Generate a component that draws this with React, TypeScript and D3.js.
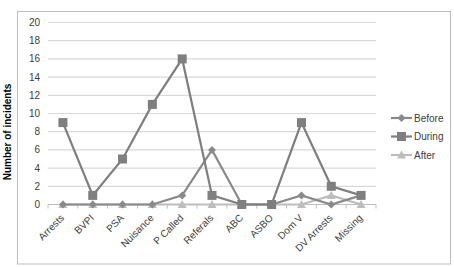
import React from "react";
import * as d3 from "d3";

const categories = ["Arrests", "BVPI", "PSA", "Nuisance", "P Called", "Referals", "ABC", "ASBO", "Dom V", "DV Arrests", "Missing"];
const before = [0, 0, 0, 0, 1, 6, 0, 0, 1, 0, 1];
const during = [9, 1, 5, 11, 16, 1, 0, 0, 9, 2, 1];
const after = [0, 0, 0, 0, 0, 0, 0, 0, 0, 1, 0];
const yTicks = [0, 2, 4, 6, 8, 10, 12, 14, 16, 18, 20];
const seriesNames = ["Before", "During", "After"];

const W = 454, H = 267;
const plot = { left: 48, right: 376, top: 22.5, bottom: 204.5 };

const colors = ["#8a8a8a", "#7f7f7f", "#bdbdbd"];
const font = "'Liberation Sans', Arial, sans-serif";

function Marker({ kind, x, y, color }: { kind: number; x: number; y: number; color: string }) {
  if (kind === 0) {
    const s = 4;
    return <path d={`M${x},${y - s}L${x + s},${y}L${x},${y + s}L${x - s},${y}Z`} fill={color} />;
  }
  if (kind === 1) {
    const s = 4.5;
    return <rect x={x - s} y={y - s} width={2 * s} height={2 * s} fill={color} />;
  }
  const s = 4.5;
  return <path d={`M${x},${y - s}L${x + s},${y + s * 0.8}L${x - s},${y + s * 0.8}Z`} fill={color} />;
}

export default function App() {
  const x = d3.scaleBand<string>().domain(categories).range([plot.left, plot.right]);
  const y = d3.scaleLinear().domain([0, 20]).range([plot.bottom, plot.top]);
  const cx = (c: string) => (x(c) as number) + x.bandwidth() / 2;
  const line = d3.line<number>().x((_, i) => cx(categories[i])).y((d) => y(d));
  const data = [before, during, after];
  const drawOrder = [2, 0, 1];

  return (
    <svg width={W} height={H} style={{ position: "fixed", left: 0, top: 0, background: "#fff" }}>
      <rect x={17.5} y={11.5} width={433} height={252.5} fill="#fff" stroke="#bfbfbf" />
      {yTicks.map((t) => (
        <g key={t}>
          {t > 0 && <line x1={plot.left} x2={plot.right} y1={y(t)} y2={y(t)} stroke="#d9d9d9" strokeWidth={1.2} />}
          <text x={40} y={y(t)} dy="0.35em" textAnchor="end" fontSize={10} fill="#404040" fontFamily={font}>{t}</text>
        </g>
      ))}
      <line x1={plot.left} x2={plot.right} y1={y(0)} y2={y(0)} stroke="#bfbfbf" strokeWidth={1.2} />
      {categories.map((c, i) => (
        <line key={"tk" + i} x1={x(c) as number} x2={x(c) as number} y1={y(0)} y2={y(0) + 4} stroke="#bfbfbf" />
      ))}
      <line x1={plot.right} x2={plot.right} y1={y(0)} y2={y(0) + 4} stroke="#bfbfbf" />
      {categories.map((c) => (
        <text key={c} transform={`translate(${cx(c) + 2},${y(0) + 14}) rotate(-45)`} textAnchor="end" fontSize={10} fill="#404040" fontFamily={font}>{c}</text>
      ))}
      <text transform={`translate(11,132) rotate(-90)`} textAnchor="middle" fontSize={10} fontWeight="bold" fill="#000" fontFamily="'Liberation Sans', Arial, sans-serif">Number of incidents</text>
      {drawOrder.map((si) => (
        <g key={si}>
          <path d={line(data[si]) || ""} fill="none" stroke={colors[si]} strokeWidth={2.2} />
          {data[si].map((v, i) => (
            <Marker key={i} kind={si} x={cx(categories[i])} y={y(v)} color={colors[si]} />
          ))}
        </g>
      ))}
      {seriesNames.map((n, i) => {
        const ly = 118 + i * 18.5;
        return (
          <g key={n}>
            <line x1={391} x2={412} y1={ly} y2={ly} stroke={colors[i]} strokeWidth={2.2} />
            <Marker kind={i} x={401.5} y={ly} color={colors[i]} />
            <text x={414} y={ly} dy="0.35em" fontSize={10} fill="#404040" fontFamily={font}>{n}</text>
          </g>
        );
      })}
    </svg>
  );
}
